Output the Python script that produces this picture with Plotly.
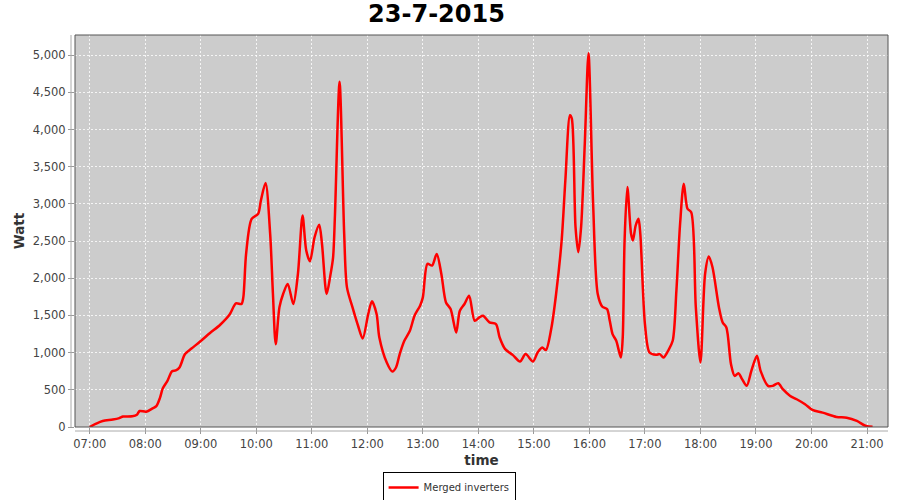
import plotly.graph_objects as go

DAY = "2015-07-23"
times = ["07:00","07:07","07:14","07:25","07:32","07:36","07:46","07:51","07:54","08:01",
         "08:08","08:12","08:16","08:19","08:24","08:29","08:33","08:37","08:43","08:50",
         "08:59","09:10","09:21","09:31","09:38","09:44","09:46","09:49","09:55","10:02",
         "10:05","10:10","10:15","10:18","10:21","10:25","10:29","10:34","10:40","10:45",
         "10:50","10:54","10:58","11:03","11:08","11:11","11:16","11:20","11:23","11:25",
         "11:30","11:35","11:38","11:44","11:50","11:55","12:01","12:05","12:10","12:13",
         "12:21","12:27","12:31","12:35","12:40","12:46","12:51","12:57","13:00","13:05",
         "13:10","13:15","13:20","13:25","13:30","13:36","13:40","13:45","13:50","13:56",
         "14:01","14:05","14:12","14:19","14:23","14:29","14:37","14:45","14:51","14:59",
         "15:04","15:09","15:13","15:19","15:24","15:30","15:34","15:39","15:41","15:45",
         "15:48","15:51","15:55","15:59","16:04","16:09","16:14","16:19","16:22","16:25",
         "16:29","16:34","16:36","16:38","16:41","16:45","16:47","16:50","16:53","16:55",
         "17:00","17:05","17:12","17:16","17:20","17:25","17:30","17:34","17:38","17:42",
         "17:46","17:50","17:55","18:00","18:05","18:09","18:13","18:20","18:24","18:28",
         "18:33","18:37","18:41","18:45","18:50","18:55","19:01","19:05","19:13","19:18",
         "19:24","19:29","19:37","19:44","19:53","20:01","20:12","20:27","20:38","20:49",
         "20:59","21:06"]
watts = [0,45,80,100,120,140,145,165,215,205,
         250,280,395,520,620,750,760,800,980,1055,
         1145,1263,1375,1509,1662,1654,1743,2327,2799,2866,
         3046,3279,2597,1788,1114,1608,1788,1923,1654,2058,
         2844,2372,2228,2551,2718,2462,1788,2035,2282,2844,
         4640,2597,1877,1608,1361,1190,1519,1690,1519,1204,
         867,745,800,980,1159,1294,1496,1631,1743,2193,
         2170,2327,2058,1675,1586,1271,1563,1654,1765,1429,
         1473,1496,1406,1384,1204,1047,970,880,980,880,
         1001,1069,1035,1338,1788,2507,3315,4191,4146,2686,
         2349,2686,3810,5023,3001,1788,1617,1586,1429,1249,
         1159,934,1204,2507,3225,2597,2507,2709,2799,2597,
         1384,1001,970,980,934,1024,1159,1833,2732,3271,
         2934,2888,1608,867,2058,2291,2147,1608,1406,1338,
         845,687,724,643,553,755,957,755,553,553,
         589,508,418,373,306,229,193,135,125,81,
         13,5]
tick_times = ["07:00","08:00","09:00","10:00","11:00","12:00","13:00","14:00",
              "15:00","16:00","17:00","18:00","19:00","20:00","21:00"]
series_name = "Merged inverters"
title_text = "23-7-2015"

x = [f"{DAY} {t}" for t in times]

FONT = "DejaVu Sans"
fig = go.Figure()
fig.add_trace(go.Scatter(
    x=x, y=watts, mode="lines", name=series_name,
    line=dict(color="#ff0000", width=2.5, shape="spline", smoothing=0.8),
))

GRID = "rgba(255,255,255,0.8)"
fig.update_layout(
    width=900, height=500,
    margin=dict(l=75, r=12, t=35, b=73, autoexpand=False),
    paper_bgcolor="white", plot_bgcolor="#cccccc",
    title=dict(text=f"<b>{title_text}</b>", xref="container", x=0.485, xanchor="center",
               yref="container", y=0.972, yanchor="middle",
               font=dict(family=FONT, size=24, color="black")),
    font=dict(family=FONT, size=11, color="#444444"),
    showlegend=True,
    legend=dict(xref="container", x=0.499, xanchor="center", yref="container", y=0.025,
                yanchor="middle", orientation="h",
                bordercolor="black", borderwidth=1, bgcolor="white",
                font=dict(family=FONT, size=10, color="#333333"),
                itemwidth=30, tracegroupgap=0),
    xaxis=dict(
        type="date",
        range=[f"{DAY} 06:44:06", f"{DAY} 21:22:40"],
        tickvals=[f"{DAY} {t}" for t in tick_times],
        ticktext=tick_times,
        showgrid=True, gridcolor=GRID, griddash="2px,2px", gridwidth=1,
        zeroline=False, ticks="outside", ticklen=6, tickcolor="#999999",
        tickfont=dict(family=FONT, size=11.5, color="#444444"),
        title=dict(text="<b>time</b>", font=dict(family=FONT, size=13.5, color="#333333"), standoff=5),
    ),
    yaxis=dict(
        range=[0, 5270],
        tickvals=[0,500,1000,1500,2000,2500,3000,3500,4000,4500,5000],
        tickformat=",d",
        showgrid=True, gridcolor=GRID, griddash="2px,2px", gridwidth=1,
        zeroline=False, ticks="outside", ticklen=6, tickcolor="#999999",
        tickfont=dict(family=FONT, size=11.5, color="#444444"),
        title=dict(text="<b>Watt</b>", font=dict(family=FONT, size=13.5, color="#333333"), standoff=5),
    ),
    shapes=[
        dict(type="rect", xref="paper", yref="paper", x0=0, y0=0, x1=1, y1=1,
             line=dict(color="#555555", width=1), fillcolor="rgba(0,0,0,0)", layer="above"),
        dict(type="line", xref="paper", yref="paper", x0=-4/813, x1=-4/813, y0=0, y1=1,
             line=dict(color="#aaaaaa", width=1)),
        dict(type="line", xref="paper", yref="paper", x0=0, x1=1, y0=-4/392, y1=-4/392,
             line=dict(color="#aaaaaa", width=1)),
    ],
)

fig.write_html("out.html", config={"displayModeBar": False},
               post_script="document.body.style.margin='0px';document.body.style.padding='0px';")
